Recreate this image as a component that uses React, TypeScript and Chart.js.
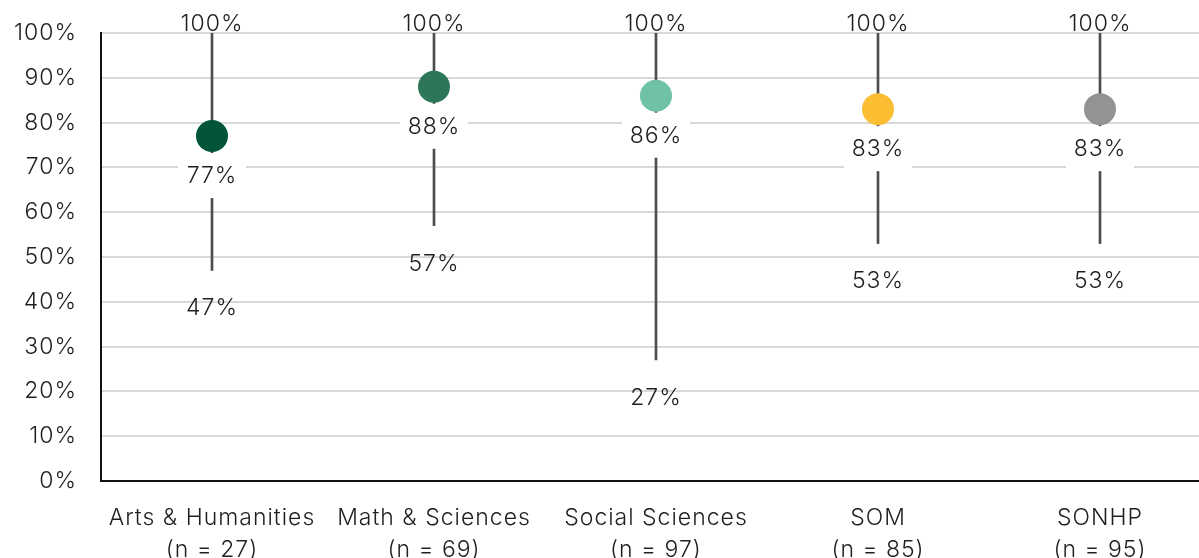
import React, { useEffect, useRef } from "react";
import { Chart, registerables } from "chart.js";

Chart.register(...registerables);

const categories = [
  ["Arts & Humanities", "(n = 27)"],
  ["Math & Sciences", "(n = 69)"],
  ["Social Sciences", "(n = 97)"],
  ["SOM", "(n = 85)"],
  ["SONHP", "(n = 95)"],
];
const maxValues = [100, 100, 100, 100, 100];
const meanValues = [77, 88, 86, 83, 83];
const minValues = [47, 57, 27, 53, 53];
const dotColors = ["#03553a", "#2d7659", "#70c2a4", "#fbbd31", "#939393"];
const yTicks = [0, 10, 20, 30, 40, 50, 60, 70, 80, 90, 100];

const FONT = "Inter, Lato, sans-serif";
const TEXT = "#1f1f1f";
const FSIZE = 23;
const SPACING = "1px";

const spacingPlugin = {
  id: "letterSpacing",
  beforeUpdate(chart: any) {
    chart.ctx.letterSpacing = SPACING;
  },
  beforeDraw(chart: any) {
    chart.ctx.letterSpacing = SPACING;
  },
};

const labelPlugin = {
  id: "valueLabels",
  afterDatasetsDraw(chart: any) {
    const { ctx, scales } = chart;
    const x = scales.x;
    const y = scales.y;
    ctx.save();
    ctx.letterSpacing = SPACING;
    ctx.font = `300 ${FSIZE}px ${FONT}`;
    ctx.textAlign = "center";
    ctx.textBaseline = "middle";
    categories.forEach((_, i) => {
      const cx = x.getPixelForValue(i);
      ctx.fillStyle = TEXT;
      ctx.fillText(`${maxValues[i]}%`, cx, y.getPixelForValue(maxValues[i]) - 9);
      const my = y.getPixelForValue(meanValues[i]) + 40;
      ctx.fillStyle = "#ffffff";
      ctx.fillRect(cx - 34, my - 23, 68, 45);
      ctx.fillStyle = TEXT;
      ctx.fillText(`${meanValues[i]}%`, cx, my);
      ctx.fillText(`${minValues[i]}%`, cx, y.getPixelForValue(minValues[i]) + 38);
    });
    ctx.restore();
  },
};

export default function App() {
  const ref = useRef<HTMLCanvasElement>(null);
  useEffect(() => {
    if (!ref.current) return;
    const chart = new Chart(ref.current, {
      type: "bar",
      data: {
        datasets: [
          {
            type: "scatter",
            data: meanValues.map((v, i) => ({ x: i, y: v })),
            pointRadius: 16,
            pointHoverRadius: 16,
            pointBackgroundColor: dotColors,
            pointBorderWidth: 0,
            order: 0,
          } as any,
          {
            type: "bar",
            data: minValues.map((v, i) => ({ x: i, y: [v, maxValues[i]] })),
            backgroundColor: "#4d4d4d",
            borderWidth: 0,
            barThickness: 2,
            order: 2,
          } as any,
        ],
      },
      options: {
        animation: false,
        responsive: true,
        maintainAspectRatio: false,
        layout: { autoPadding: false, padding: { top: 33, right: 0, left: 0, bottom: 0 } },
        plugins: { legend: { display: false }, tooltip: { enabled: false } },
        scales: {
          x: {
            type: "linear",
            offset: false,
            min: -0.5,
            max: 4.446,
            afterBuildTicks: (scale: any) => {
              scale.ticks = categories.map((_, i) => ({ value: i }));
            },
            afterFit: (scale: any) => {
              scale.height = 77;
              scale.paddingLeft = 0;
              scale.paddingRight = 0;
            },
            grid: { display: false, drawTicks: false },
            border: { display: true, color: "#111", width: 2 },
            ticks: {
              autoSkip: false,
              maxRotation: 0,
              padding: 21,
              color: TEXT,
              font: { family: FONT, size: FSIZE, weight: 300, lineHeight: 1.4 },
              callback: (v: any) => categories[v as number] ?? "",
            },
          },
          y: {
            min: 0,
            max: 100,
            afterBuildTicks: (scale: any) => {
              scale.ticks = yTicks.map((v) => ({ value: v }));
            },
            afterFit: (scale: any) => {
              scale.width = 101;
              scale.paddingTop = 0;
              scale.paddingBottom = 0;
            },
            grid: { color: "#d9d9d9", lineWidth: 2, drawTicks: false },
            border: { display: true, color: "#111", width: 2 },
            ticks: {
              padding: 24,
              color: TEXT,
              font: { family: FONT, size: FSIZE, weight: 300 },
              callback: (v: any) => `${v}%`,
            },
          },
        },
      },
      plugins: [spacingPlugin, labelPlugin],
    });
    return () => chart.destroy();
  }, []);
  return (
    <div style={{ position: "fixed", left: 0, top: 0, width: 1199, height: 558, background: "#fff" }}>
      <canvas ref={ref} />
    </div>
  );
}
